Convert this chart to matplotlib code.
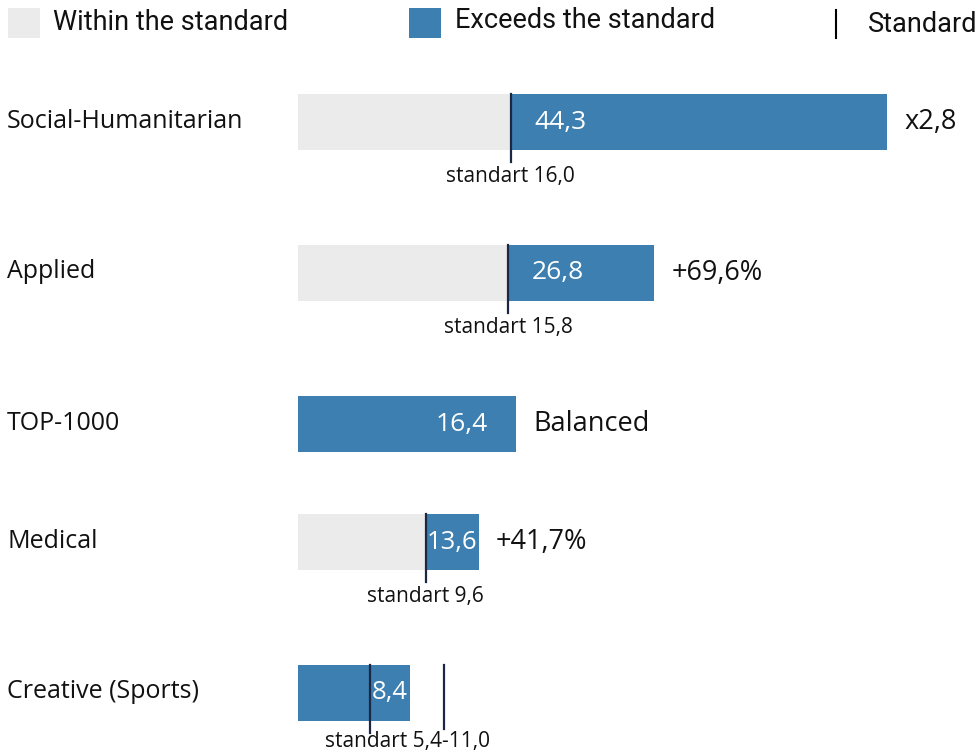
import matplotlib as mpl
mpl.use('agg')
import matplotlib.pyplot as plt
from matplotlib.patches import Rectangle

plt.rcParams['font.family'] = ['Open Sans', 'DejaVu Sans']

categories = ["Social-Humanitarian", "Applied", "TOP-1000", "Medical", "Creative (Sports)"]
values = [44.3, 26.8, 16.4, 13.6, 8.4]
value_labels = ["44,3", "26,8", "16,4", "13,6", "8,4"]
std_low = [16.0, 15.8, None, 9.6, 5.4]
std_high = [None, None, None, None, 11.0]
std_labels = ["standart 16,0", "standart 15,8", None, "standart 9,6", "standart 5,4-11,0"]
notes = ["x2,8", "+69,6%", "Balanced", "+41,7%", ""]

GREY = '#ebebeb'
BLUE = '#3d7fb1'
LINE = '#1c2743'
TXT = '#111111'

W, H = 979, 754
px_per_unit = 13.3
x0 = 298

fig = plt.figure(figsize=(W / 100, H / 100), dpi=100)

# layout axes in pixels (legend, category names)
lax = fig.add_axes([0, 0, 1, 1])
lax.set_xlim(0, W)
lax.set_ylim(H, 0)
lax.axis('off')

# data axes: x in data units, y in pixels
ax = fig.add_axes([0, 0, 1, 1])
ax.set_xlim(-x0 / px_per_unit, (W - x0) / px_per_unit)
ax.set_ylim(H, 0)
ax.axis('off')

# legend
leg_font = ['Roboto', 'DejaVu Sans']
lax.add_patch(Rectangle((8, 8), 32, 30, color=GREY, lw=0))
lax.text(53, 23, "Within the standard", fontsize=19.5, family=leg_font, va='center', ha='left', color=TXT)
lax.add_patch(Rectangle((409, 8), 32, 30, color=BLUE, lw=0))
lax.text(455, 21, "Exceeds the standard", fontsize=19.5, family=leg_font, va='center', ha='left', color=TXT)
lax.plot([836, 836], [10, 38], color='black', lw=1.5)
lax.text(868, 25, "Standard", fontsize=19.5, family=leg_font, va='center', ha='left', color=TXT)

bar_h = 56
y = 122
for i, cat in enumerate(categories):
    v = values[i]
    lo = std_low[i]
    hi = std_high[i]
    split = lo is not None and hi is None

    lax.text(7, y - 1, cat, fontsize=18, va='center', ha='left', color=TXT)

    if split:
        ax.barh(y, lo, height=bar_h, left=0, color=GREY, lw=0)
        ax.barh(y, v - lo, height=bar_h, left=lo, color=BLUE, lw=0)
    else:
        ax.barh(y, v, height=bar_h, left=0, color=BLUE, lw=0)

    # value label inside the blue part
    if lo is None:
        ax.annotate(value_labels[i], (v, y), xytext=(-28, 0), textcoords='offset pixels',
                    ha='right', va='center', color='white', fontsize=19)
    else:
        seg_start = lo if lo < v else 0
        if (v - seg_start) * px_per_unit > 120:
            ax.annotate(value_labels[i], (seg_start, y), xytext=(24, 0), textcoords='offset pixels',
                        ha='left', va='center', color='white', fontsize=19)
        else:
            ax.text((seg_start + v) / 2, y, value_labels[i], ha='center', va='center',
                    color='white', fontsize=18.5)

    # standard markers
    if lo is not None:
        ax.plot([lo, lo], [y - bar_h / 2, y + bar_h / 2 + 12], color=LINE, lw=1.6)
        mid = lo
        if hi is not None:
            ax.plot([hi, hi], [y - bar_h / 2, y + bar_h / 2 + 8], color=LINE, lw=1.6)
            mid = (lo + hi) / 2
        base = min(y + 60, H - 7)
        ax.text(mid, base, std_labels[i], ha='center', va='baseline', fontsize=15, color=TXT)

    if notes[i]:
        ax.annotate(notes[i], (v, y), xytext=(17, 0), textcoords='offset pixels',
                    ha='left', va='center', fontsize=19.5, color=TXT)

    y += 118 + (33 if std_labels[i] else 0)

plt.savefig('out.png', dpi=100)
